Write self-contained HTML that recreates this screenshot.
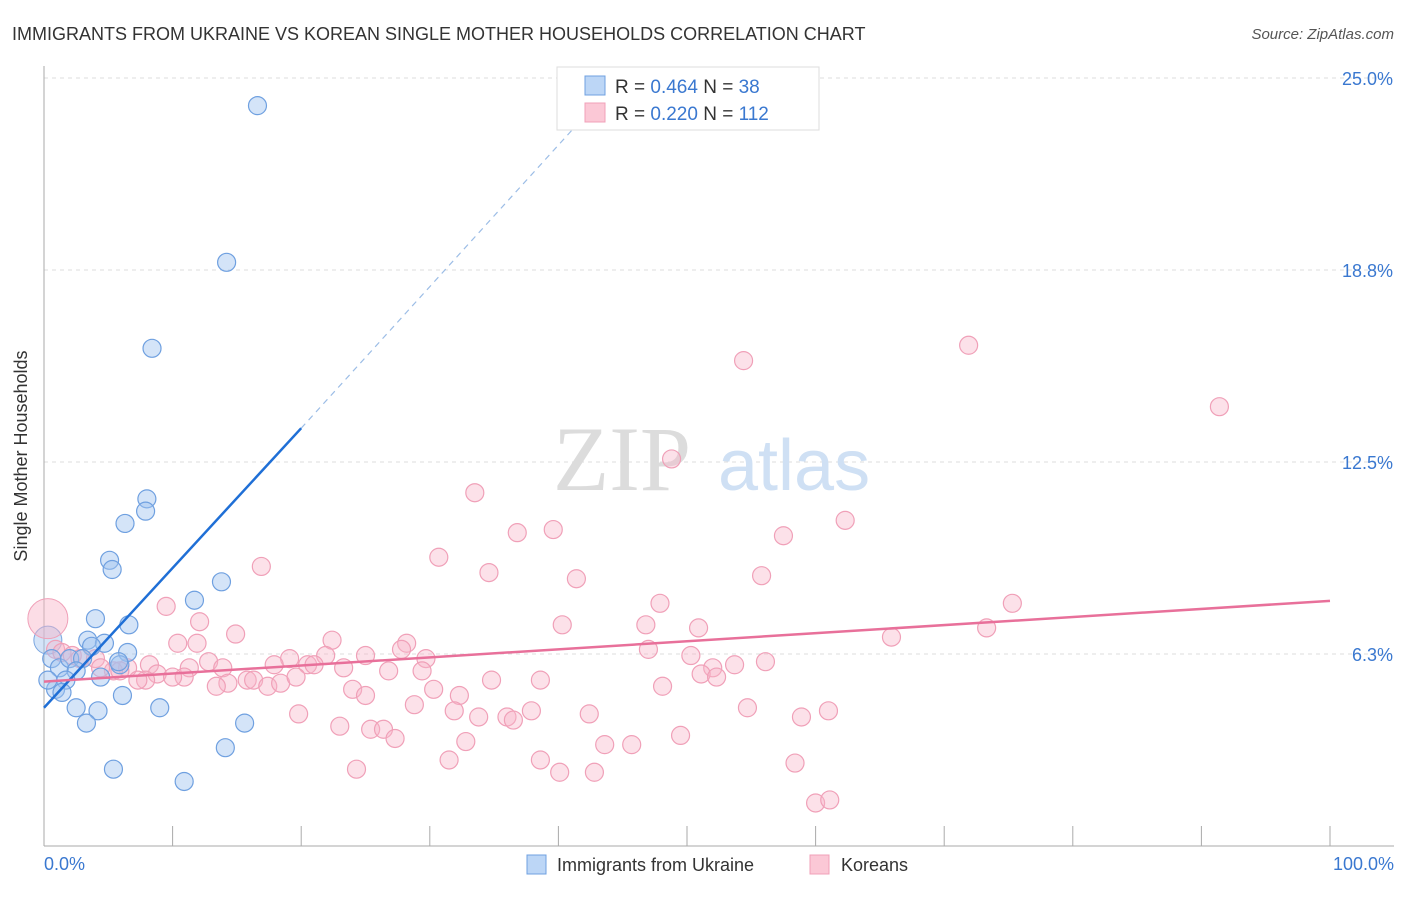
<!DOCTYPE html>
<html><head><meta charset="utf-8"><style>
body{margin:0;background:#fff;font-family:"Liberation Sans",sans-serif;}
svg text{font-family:"Liberation Sans",sans-serif;}
</style></head><body>
<svg width="1406" height="892" viewBox="0 0 1406 892">
<text x="12" y="40" font-size="18" fill="#333">IMMIGRANTS FROM UKRAINE VS KOREAN SINGLE MOTHER HOUSEHOLDS CORRELATION CHART</text>
<text x="1394" y="39" font-size="15" fill="#555" font-style="italic" text-anchor="end">Source: ZipAtlas.com</text>
<g id="grid"></g>
<g>
<text x="553" y="490" font-size="92" fill="#dcdcdc" font-family="Liberation Serif" style="font-family:'Liberation Serif',serif">ZIP</text>
<text x="718" y="490" font-size="72" fill="#cfe0f4">atlas</text>
</g>
<g id="axes"></g>
<g id="pts"></g>
<g id="lines"></g>
<text x="27" y="456" font-size="18" fill="#333" text-anchor="middle" transform="rotate(-90 27 456)">Single Mother Households</text>
<text x="44" y="870" font-size="18" fill="#3a78d0">0.0%</text>
<text x="1394" y="870" font-size="18" fill="#3a78d0" text-anchor="end">100.0%</text>
<g>
<rect x="557" y="67" width="262" height="63" fill="#fff" stroke="#ddd"/>
<rect x="585" y="76" width="20" height="19" fill="#bcd6f6" stroke="#6fa0e0"/>
<rect x="585" y="103" width="20" height="19" fill="#fbc8d6" stroke="#f0a0b8"/>
<text x="615" y="93" font-size="19" fill="#333">R = <tspan fill="#3a78d0">0.464</tspan>   N = <tspan fill="#3a78d0"> 38</tspan></text>
<text x="615" y="120" font-size="19" fill="#333">R = <tspan fill="#3a78d0">0.220</tspan>   N = <tspan fill="#3a78d0">112</tspan></text>
</g>
<g>
<rect x="527" y="855" width="19" height="19" fill="#bcd6f6" stroke="#6fa0e0"/>
<text x="557" y="871" font-size="18" fill="#333">Immigrants from Ukraine</text>
<rect x="810" y="855" width="19" height="19" fill="#fbc8d6" stroke="#f0a0b8"/>
<text x="841" y="871" font-size="18" fill="#333">Koreans</text>
</g>
</svg>
<script>
const yTicks=[6.25,12.5,18.75,25];
const yTickLabels=["6.3%","12.5%","18.8%","25.0%"];
const blueX=[16.6,14.2,8.4,8.0,7.9,6.3,5.1,5.3,13.8,11.7,4.0,6.6,3.4,4.7,3.7,6.5,0.6,1.2,2.0,3.0,5.9,2.5,4.4,1.7,0.9,1.4,6.1,2.5,4.2,9.0,3.3,15.6,14.1,5.4,10.9,0.3,5.8];
const blueY=[24.1,19.0,16.2,11.3,10.9,10.5,9.3,9.0,8.6,8.0,7.4,7.2,6.7,6.6,6.5,6.3,6.1,5.8,6.1,6.1,5.9,5.7,5.5,5.4,5.1,5.0,4.9,4.5,4.4,4.5,4.0,4.0,3.2,2.5,2.1,5.4,6.0];
const pinkX=[54.4,71.9,91.4,48.8,33.5,62.3,36.8,39.6,57.5,30.7,16.9,34.6,41.4,55.8,75.3,47.9,9.5,12.1,40.3,46.8,50.9,73.3,14.9,22.4,10.4,11.9,28.2,65.9,27.8,47.0,21.9,25.0,50.3,29.7,19.1,12.8,8.2,17.9,20.5,21.0,11.3,13.9,23.3,56.1,53.7,52.0,26.8,6.5,5.4,8.8,10.9,7.9,7.3,10.0,15.8,16.3,14.3,13.4,17.4,18.4,19.6,29.4,34.8,38.6,51.1,52.3,48.1,24.0,25.0,30.3,32.3,28.8,31.9,33.8,36.0,37.9,36.5,42.4,54.7,61.0,58.9,19.8,23.0,25.4,26.4,27.3,32.8,49.5,43.6,45.7,31.5,38.6,58.4,24.3,40.1,42.8,60.0,61.1,0.9,1.4,2.2,2.8,4.0,4.4,5.9];
const pinkY=[15.8,16.3,14.3,12.6,11.5,10.6,10.2,10.3,10.1,9.4,9.1,8.9,8.7,8.8,7.9,7.9,7.8,7.3,7.2,7.2,7.1,7.1,6.9,6.7,6.6,6.6,6.6,6.8,6.4,6.4,6.2,6.2,6.2,6.1,6.1,6.0,5.9,5.9,5.9,5.9,5.8,5.8,5.8,6.0,5.9,5.8,5.7,5.8,5.7,5.6,5.5,5.4,5.4,5.5,5.4,5.4,5.3,5.2,5.2,5.3,5.5,5.7,5.4,5.4,5.6,5.5,5.2,5.1,4.9,5.1,4.9,4.6,4.4,4.2,4.2,4.4,4.1,4.3,4.5,4.4,4.2,4.3,3.9,3.8,3.8,3.5,3.4,3.6,3.3,3.3,2.8,2.8,2.7,2.5,2.4,2.4,1.4,1.5,6.4,6.3,6.2,6.1,6.1,5.8,5.7];
const blueLine=[[0,4.5],[20,13.6]];
const blueDash=[[20,13.6],[41.7,23.6]];
const pinkLine=[[0,5.35],[100,7.98]];
const X=v=>44+v*12.86, Y=v=>846-v*30.72;
const NS="http://www.w3.org/2000/svg";
function mk(p,t,a){const e=document.createElementNS(NS,t);for(const k in a)e.setAttribute(k,a[k]);p.appendChild(e);return e;}
const grid=document.getElementById('grid'),axes=document.getElementById('axes'),pts=document.getElementById('pts'),lines=document.getElementById('lines');
yTicks.forEach((t,i)=>{
 const l=mk(grid,'line',{x1:44,x2:1394,y1:Y(t),y2:Y(t),stroke:'#ddd','stroke-dasharray':'4,4'});
 
 
 const tx=mk(grid,'text',{x:1393,y:Y(t)+7,'font-size':18,fill:'#3a78d0','text-anchor':'end'});
 tx.textContent=yTickLabels[i];
 
 
});
const ax=mk(axes,'line',{x1:44,x2:44,y1:66,y2:846,stroke:'#aaa'});


const bx=mk(axes,'line',{x1:44,x2:1394,y1:846,y2:846,stroke:'#aaa'});


for(let i=0;i<=10;i++){
 const t=mk(axes,'line',{x1:X(i*10),x2:X(i*10),y1:826,y2:846,stroke:'#aaa'});
 
 
}
const b1=mk(pts,'circle',{cx:X(0.3),cy:Y(6.7),r:14,fill:'rgba(160,196,240,0.45)',stroke:'#7aa6e0'});


const p1=mk(pts,'circle',{cx:X(0.3),cy:Y(7.4),r:20,fill:'rgba(248,180,200,0.45)',stroke:'#f0a0b8'});


pinkX.forEach((x,i)=>{
 const c=mk(pts,'circle',{cx:X(x),cy:Y(pinkY[i]),r:9,fill:'rgba(248,180,200,0.4)',stroke:'#f0a0b8','stroke-width':1.2});
 
 
});
blueX.forEach((x,i)=>{
 const c=mk(pts,'circle',{cx:X(x),cy:Y(blueY[i]),r:9,fill:'rgba(160,196,240,0.45)',stroke:'#6fa0e0','stroke-width':1.2});
 
 
});
const bl=mk(lines,'line',{x1:X(blueLine[0][0]),y1:Y(blueLine[0][1]),x2:X(blueLine[1][0]),y2:Y(blueLine[1][1]),stroke:'#1f6fd6','stroke-width':2.5});


const bd=mk(lines,'line',{x1:X(blueDash[0][0]),y1:Y(blueDash[0][1]),x2:X(blueDash[1][0]),y2:Y(blueDash[1][1]),stroke:'#9cbde6','stroke-width':1.2,'stroke-dasharray':'6,5'});


const pl=mk(lines,'line',{x1:X(pinkLine[0][0]),y1:Y(pinkLine[0][1]),x2:X(pinkLine[1][0]),y2:Y(pinkLine[1][1]),stroke:'#e8709a','stroke-width':2.5});


</script>
</body></html>
